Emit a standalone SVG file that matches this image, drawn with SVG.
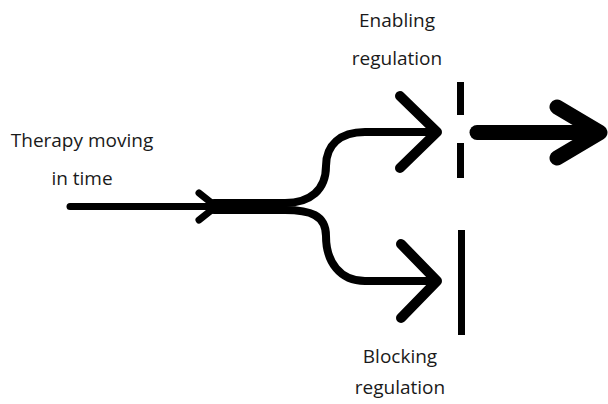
<svg xmlns="http://www.w3.org/2000/svg" width="608" height="404" viewBox="0 0 608 404">
<style>
.lbl{font-family:"Open Sans","Liberation Sans",sans-serif;font-size:19px;fill:#1a1a1a;text-anchor:middle}
.ln{fill:none;stroke:#000;stroke-linecap:round;stroke-linejoin:round}
.bar{fill:#000}
</style>
<rect width="608" height="404" fill="#fff"/>
<g id="therapy-label">
<text class="lbl" x="82" y="147">Therapy moving</text>
<text class="lbl" x="82" y="185">in time</text>
</g>
<g id="enabling-label">
<text class="lbl" x="397" y="27">Enabling</text>
<text class="lbl" x="397" y="65">regulation</text>
</g>
<g id="blocking-label">
<text class="lbl" x="400" y="363">Blocking</text>
<text class="lbl" x="400" y="394">regulation</text>
</g>
<g id="enabling-gate">
<rect class="bar" x="457" y="82" width="7" height="33"/>
<rect class="bar" x="457" y="143" width="7" height="35"/>
</g>
<g id="blocking-gate">
<rect class="bar" x="458" y="230" width="7" height="105"/>
</g>
<g id="connectors">
<path class="ln" d="M70 206.5 L216 206.5" stroke-width="7" stroke-linecap="butt"/>
<path class="ln" d="M199 193 L216 206.5 L199 220" stroke-width="7"/>
<path class="ln" d="M214 203 L285 203 C310 203 326 190 326 166 C326 145 340 132 365 132 L437 132" stroke-width="8" stroke-linecap="butt"/>
<path class="ln" d="M214 210 L285 210 C310 210 326 215 326 236 C326 262 340 281 365 281 L437 281" stroke-width="8" stroke-linecap="butt"/>
<path class="ln" d="M400 96 L437 132 L400 168" stroke-width="10"/>
<path class="ln" d="M401 244 L437 281 L401 318" stroke-width="10"/>
<path class="ln" d="M477 132.5 L598 132.5" stroke-width="15" stroke-linecap="butt"/>
<path class="ln" d="M557 107 L600 132.5 L557 158" stroke-width="15"/>
</g>
</svg>
